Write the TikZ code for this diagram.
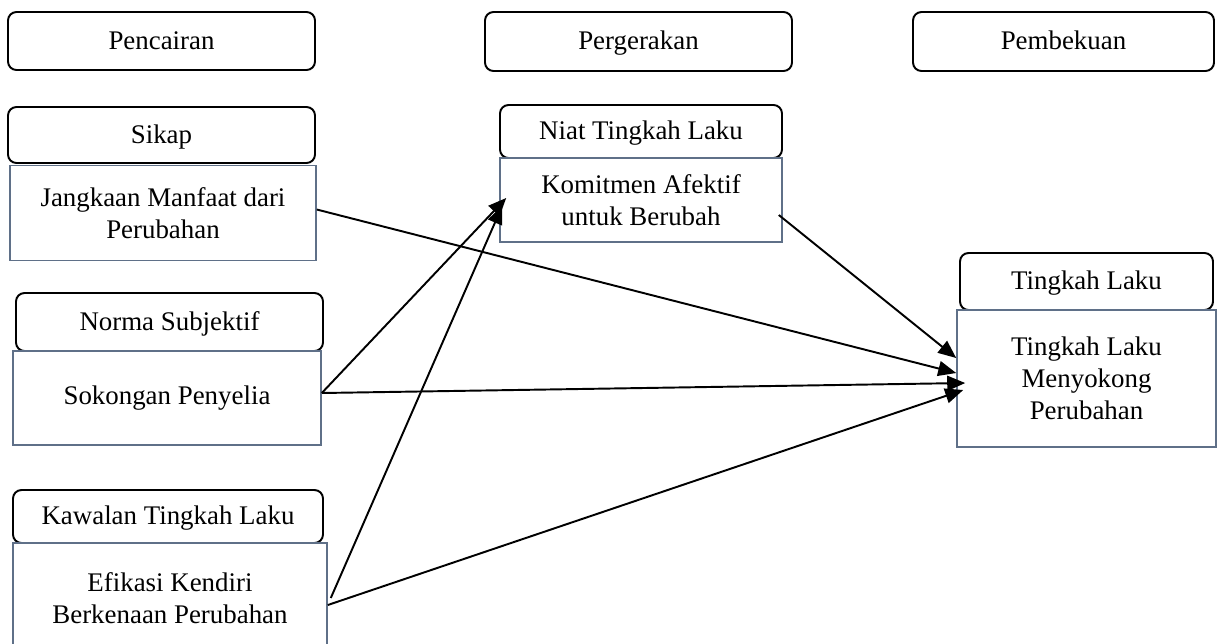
\documentclass[tikz,border=0pt]{standalone}
\usepackage{fontspec}
\setmainfont{Liberation Serif}
\usepackage{xcolor}
\usepackage{tikz}
\usetikzlibrary{arrows.meta,positioning}
\definecolor{boxline}{HTML}{5F7088}

\begin{document}
\begin{tikzpicture}[
    phase/.style={draw, rounded corners=0.17cm, line width=1.1pt, align=center, inner sep=0pt, text height=2ex, text depth=0pt},
    factor/.style={draw=boxline, line width=0.9pt, align=center, inner sep=0pt},
    link/.style={-{Triangle[length=0.36cm,width=0.30cm]}, line width=1.1pt},
    font=\fontsize{15.3}{18.2}\selectfont
]
    \useasboundingbox (0,0) rectangle (24.34,-12.86);
    % stages
    \node[phase, minimum width=6.14cm, minimum height=1.16cm] (melt) at (3.23,-0.82) {Pencairan};
    \node[phase, minimum width=6.14cm, minimum height=1.18cm] (move) at (12.77,-0.83) {Pergerakan};
    \node[phase, minimum width=6.02cm, minimum height=1.18cm] (freeze) at (21.27,-0.83) {Pembekuan};
    % left column
    \node[phase, minimum width=6.14cm, minimum height=1.12cm] (sikap) at (3.23,-2.70) {Sikap};
    \node[factor, minimum width=6.12cm, minimum height=1.90cm] (jangkaan) at (3.26,-4.26) {Jangkaan Manfaat dari\\Perubahan};
    \node[phase, minimum width=6.14cm, minimum height=1.16cm] (norma) at (3.39,-6.44) {Norma Subjektif};
    \node[factor, minimum width=6.16cm, minimum height=1.88cm] (sokongan) at (3.34,-7.96) {Sokongan Penyelia};
    \node[phase, minimum width=6.20cm, minimum height=1.06cm] (kawalan) at (3.36,-10.33) {Kawalan Tingkah Laku};
    \node[factor, minimum width=6.28cm, minimum height=2.20cm] (efikasi) at (3.40,-11.96) {Efikasi Kendiri\\Berkenaan Perubahan};
    % middle column
    \node[phase, minimum width=5.64cm, minimum height=1.06cm] (niat) at (12.82,-2.63) {Niat Tingkah Laku};
    \node[factor, minimum width=5.64cm, minimum height=1.68cm] (komitmen) at (12.82,-4.00) {Komitmen Afektif\\untuk Berubah};
    % right column
    \node[phase, minimum width=5.06cm, minimum height=1.14cm] (laku) at (21.73,-5.63) {Tingkah Laku};
    \node[factor, minimum width=5.18cm, minimum height=2.74cm] (sokong) at (21.73,-7.57) {Tingkah Laku\\Menyokong\\Perubahan};

    \draw[link] ([yshift=0.07cm]jangkaan.east) -- ([yshift=0.11cm]sokong.west);
    \draw[link] ([xshift=-0.08cm,yshift=-0.30cm]komitmen.east) -- ([yshift=0.41cm]sokong.west);
    \draw[link] ([yshift=0.10cm]sokongan.east) -- ([xshift=0.14cm,yshift=0.04cm]komitmen.west);
    \draw[link] ([yshift=0.10cm]sokongan.east) -- ([xshift=0.18cm,yshift=-0.09cm]sokong.west);
    \draw[link] ([xshift=0.06cm,yshift=0.00cm]efikasi.east) -- ([xshift=0.06cm,yshift=-0.12cm]komitmen.west);
    \draw[link] ([yshift=-0.14cm]efikasi.east) -- ([xshift=0.14cm,yshift=-0.23cm]sokong.west);
\end{tikzpicture}
\end{document}
